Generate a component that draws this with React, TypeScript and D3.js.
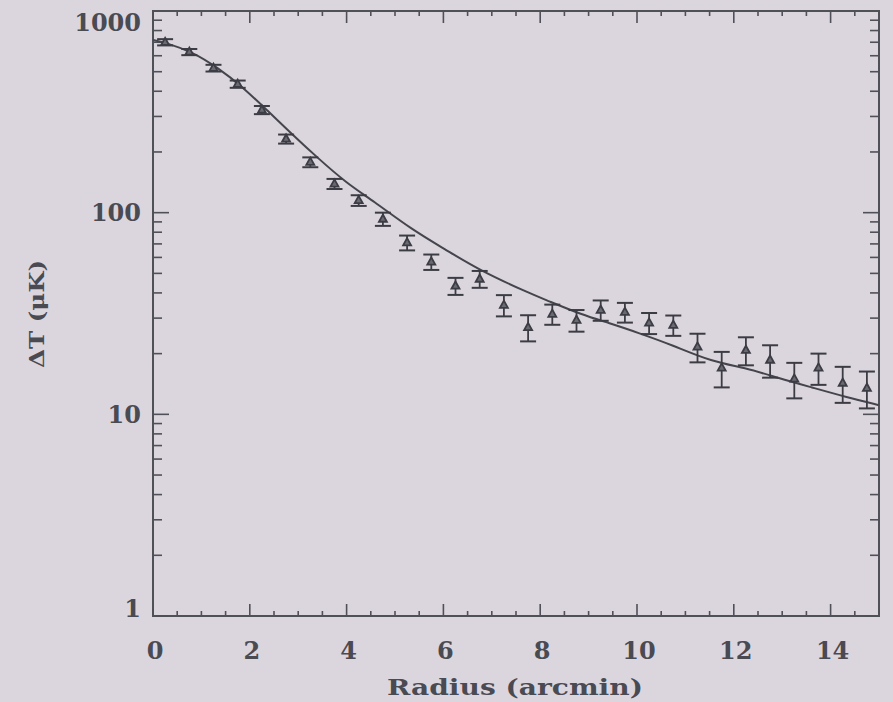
import React from "react";
import * as d3 from "d3";

const radius = [0.25, 0.75, 1.25, 1.75, 2.25, 2.75, 3.25, 3.75, 4.25, 4.75, 5.25, 5.75, 6.25, 6.75, 7.25, 7.75, 8.25, 8.75, 9.25, 9.75, 10.25, 10.75, 11.25, 11.75, 12.25, 12.75, 13.25, 13.75, 14.25, 14.75];
const deltaT = [700, 626, 521, 434, 323, 232, 178, 139, 115, 93, 71, 57, 43.3, 46.9, 34.8, 27, 31.4, 29.3, 32.9, 32.1, 28.4, 27.7, 21.6, 17, 20.8, 18.6, 15, 17, 14.3, 13.5];
const deltaTErr = [25, 22, 20, 18, 15, 12, 10, 8, 7, 7, 6, 5, 4.2, 4.5, 4.2, 4, 3.6, 3.6, 3.8, 3.6, 3.4, 3.2, 3.5, 3.4, 3.3, 3.4, 3, 3, 2.9, 2.8];

const modelRadius = [0, 0.29, 0.82, 1.32, 1.86, 2.35, 2.89, 3.38, 4.0, 4.54, 5.36, 6.06, 6.74, 7.77, 8.12, 8.87, 9.42, 10.04, 10.72, 11.55, 12.25, 12.93, 13.61, 14.31, 15];
const modelDeltaT = [718, 693, 626, 527, 419, 323, 243, 189, 140, 115, 82, 65.3, 51.9, 39.9, 36.9, 31.1, 28.4, 25.3, 22.1, 18.2, 17.0, 15.1, 13.6, 12.2, 11.1];

const xTickLabels = [0, 2, 4, 6, 8, 10, 12, 14];
const yTickLabels = [1, 10, 100, 1000];

const W = 893;
const H = 702;
const left = 153, right = 879, top = 11, bottom = 616;
const ink = "#505058";
const textInk = "#4a4a52";
const fontFamily = "'DejaVu Serif', serif";

export default function App() {
  const x = d3.scaleLinear().domain([0, 15]).range([left, right]);
  const y = d3.scaleLog().domain([1, 1000]).range([bottom, top]);

  const minorX = d3.range(0, 15.01, 0.5).filter((v) => Math.abs(v / 2 - Math.round(v / 2)) > 1e-6);
  const yAll = y.ticks();
  const yMinor = yAll.filter((v) => !yTickLabels.includes(v));

  const line = d3
    .line<number>()
    .x((_, i) => x(modelRadius[i]))
    .y((d) => y(d))
    .curve(d3.curveBasis);

  const tri = (cx: number, cy: number, s: number) =>
    `M${cx},${cy - s * 0.9} L${cx + s * 0.8},${cy + s * 0.55} L${cx - s * 0.8},${cy + s * 0.55} Z`;

  return (
    <svg width={W} height={H} style={{ position: "absolute", left: 0, top: 0, display: "block" }}>
      <rect x={0} y={0} width={W} height={H} fill="#dbd6de" />
      <rect x={left} y={top} width={right - left} height={bottom - top} fill="none" stroke={ink} strokeWidth={2} />
      {xTickLabels.map((v) => (
        <g key={"xt" + v}>
          <line x1={x(v)} x2={x(v)} y1={bottom} y2={bottom - 12} stroke={ink} strokeWidth={1.6} />
          <line x1={x(v)} x2={x(v)} y1={top} y2={top + 12} stroke={ink} strokeWidth={1.6} />
          <text x={x(v) + 2} y={650} textAnchor="middle" dominantBaseline="central" fontFamily={fontFamily} fontWeight="bold" fontSize={24} fill={textInk}>
            {v}
          </text>
        </g>
      ))}
      {minorX.map((v) => (
        <g key={"xm" + v}>
          <line x1={x(v)} x2={x(v)} y1={bottom} y2={bottom - 5} stroke={ink} strokeWidth={1.6} />
          <line x1={x(v)} x2={x(v)} y1={top} y2={top + 5} stroke={ink} strokeWidth={1.6} />
        </g>
      ))}
      {yTickLabels.map((v) => (
        <g key={"yt" + v}>
          <line x1={left} x2={left + 16} y1={y(v)} y2={y(v)} stroke={ink} strokeWidth={1.6} />
          <line x1={right} x2={right - 16} y1={y(v)} y2={y(v)} stroke={ink} strokeWidth={1.6} />
          <text
            x={141}
            y={Math.min(Math.max(y(v), top + 11), bottom - 8)}
            textAnchor="end"
            dominantBaseline="central"
            fontFamily={fontFamily}
            fontWeight="bold"
            fontSize={24}
            fill={textInk}
          >
            {v}
          </text>
        </g>
      ))}
      {yMinor.map((v) => (
        <g key={"ym" + v}>
          <line x1={left} x2={left + 9} y1={y(v)} y2={y(v)} stroke={ink} strokeWidth={1.6} />
          <line x1={right} x2={right - 9} y1={y(v)} y2={y(v)} stroke={ink} strokeWidth={1.6} />
        </g>
      ))}
      <path d={line(modelDeltaT) || ""} fill="none" stroke="#45454d" strokeWidth={2} />
      {radius.map((r, i) => {
        const cx = x(r);
        const cy = y(deltaT[i]);
        const y1 = y(deltaT[i] + deltaTErr[i]);
        const y2 = y(deltaT[i] - deltaTErr[i]);
        return (
          <g key={"p" + i} stroke="#3c3c44" fill="none">
            <line x1={cx} x2={cx} y1={y1} y2={y2} strokeWidth={1.8} />
            <line x1={cx - 8} x2={cx + 8} y1={y1} y2={y1} strokeWidth={2} />
            <line x1={cx - 8} x2={cx + 8} y1={y2} y2={y2} strokeWidth={2} />
            <path d={tri(cx, cy, 5)} strokeWidth={1.8} fill="#6a6a72" />
          </g>
        );
      })}
      <text x={515} y={686} textAnchor="middle" dominantBaseline="central" fontFamily={fontFamily} fontWeight="bold" fontSize={23} textLength={256} lengthAdjust="spacingAndGlyphs" fill={textInk}>
        Radius (arcmin)
      </text>
      <text
        transform="translate(36,314) rotate(-90)"
        textAnchor="middle"
        dominantBaseline="central"
        fontFamily={fontFamily}
        fontWeight="bold"
        fontSize={21}
        textLength={108}
        lengthAdjust="spacingAndGlyphs"
        fill={textInk}
      >
        ΔT (μK)
      </text>
    </svg>
  );
}
